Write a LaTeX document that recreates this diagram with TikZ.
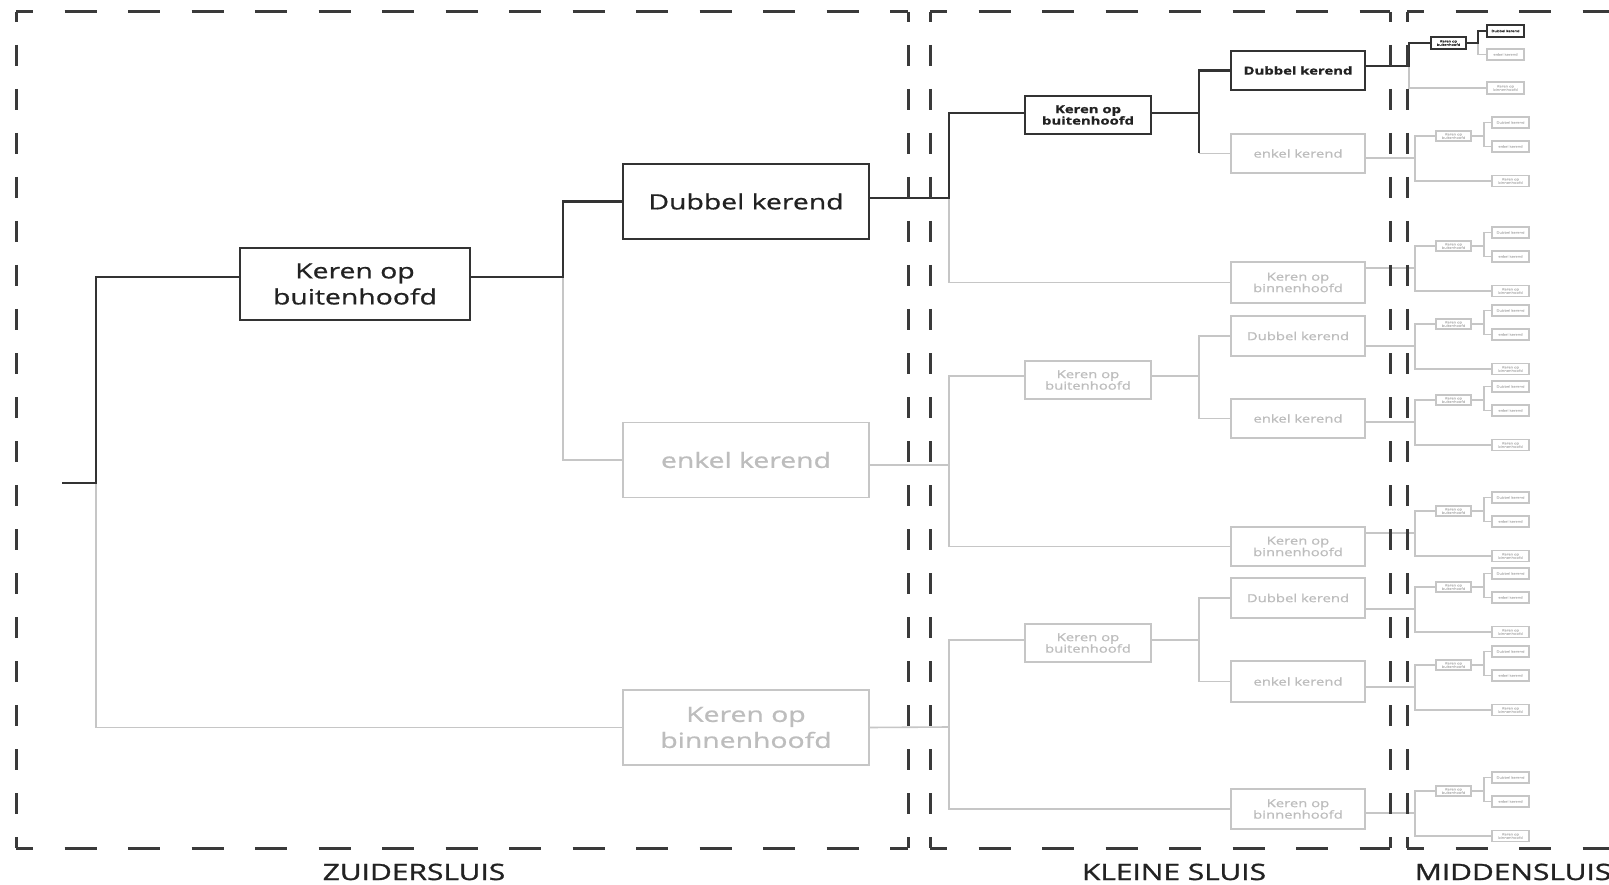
\documentclass[tikz,border=0pt]{standalone}
\usepackage{fontspec}
\setmainfont[FakeStretch=1.35,FakeBold=0.8]{Open Sans}
\newfontfamily\lblfont[FakeStretch=1.33,FakeBold=1.2]{Open Sans}
\definecolor{dkc}{HTML}{333333}
\definecolor{ltc}{HTML}{C6C6C6}
\definecolor{frc}{HTML}{3A3A3A}
\definecolor{txd}{HTML}{222222}
\definecolor{txl}{HTML}{BDBDBD}
\newcommand{\mgroup}[3]{%
  \coordinate (#1i) at (#2,#3);
  \node[ltbox,mtiny] (#1t) at ({#2+38.5},{#3-22}) {Keren op\\buitenhoofd};
  \node[ltbox,mleaf] (#1d) at ({#2+95.5},{#3-35.5}) {Dubbel kerend};
  \node[ltbox,mleaf] (#1e) at ({#2+95.5},{#3-11.5}) {enkel kerend};
  \node[ltbox,mleaf] (#1n) at ({#2+95.5},{#3+23}) {Keren op\\binnenhoofd};
  \coordinate (#1j) at ({#2+69},{#3-22});
  \draw[mlt] (#1t.west) -| (#1i) |- (#1n.west);
  \draw[mlt] (#1t.east) -- (#1j);
  \draw[mlt] (#1d.west) -| (#1j) |- (#1e.west);
}
\begin{document}
\begin{tikzpicture}[x=1pt,y=-1pt,
  box/.style={rectangle,draw,inner sep=0pt,outer sep=0pt,align=center},
  dkbox/.style={box,draw=dkc,line width=2.2pt,text=txd},
  ltbox/.style={box,draw=ltc,line width=1.6pt,text=txl},
  dkl/.style={draw=dkc,line width=2.2pt},
  ltl/.style={draw=ltc,line width=1.6pt},
  mlt/.style={draw=ltc,line width=1.2pt},
  mdk/.style={draw=dkc,line width=1.8pt},
  zsize/.style={minimum width=246pt,minimum height=75pt,font=\fontsize{21}{26}\selectfont},
  ksize/.style={minimum width=134pt,minimum height=40pt,font=\fontsize{11}{11.5}\selectfont},
  kbsize/.style={minimum width=126pt,minimum height=38pt,font=\fontsize{11}{11.5}\selectfont},
  mtiny/.style={minimum width=35pt,minimum height=10pt,line width=1.1pt,font=\fontsize{3}{3.4}\selectfont},
  mleaf/.style={minimum width=37pt,minimum height=11pt,line width=1.1pt,font=\fontsize{3}{3.4}\selectfont},
  fH/.style={draw=frc,line width=3pt,dash pattern=on 32pt off 31.5pt,dash phase=15pt},
  fV/.style={draw=frc,line width=3pt,dash pattern=on 21pt off 23pt,dash phase=11pt},
  lbl/.style={font=\lblfont\fontsize{22.5}{26}\selectfont,text=txd,anchor=base,inner sep=0pt}
]
\useasboundingbox (0,0) rectangle (1609,885);
\clip (0,0) rectangle (1609,885);
\fill[white] (0,0) rectangle (1609,885);

% ---------- ZUIDERSLUIS ----------
\coordinate (root) at (62,483);
\coordinate (rj) at (96,483);
\node[dkbox,minimum width=230pt,minimum height=72pt,font=\fontsize{21}{26}\selectfont] (zkb) at (355,284) {Keren op\\buitenhoofd};
\node[dkbox,zsize] (zdk) at (746,201.5) {Dubbel kerend};
\node[ltbox,zsize] (zek) at (746,460) {enkel kerend};
\node[ltbox,zsize] (zkn) at (746,727.5) {Keren op\\binnenhoofd};
\coordinate (zj) at (563,277);

\draw[ltl] (rj) |- (zkn.west);
\draw[dkl] (root) -- (rj) |- ([yshift=7pt]zkb.west);
\draw[ltl] (zj) |- (zek.west);
\draw[dkl] ([yshift=7pt]zkb.east) -- (zj) |- (zdk.west);

% ---------- KLEINE SLUIS ----------
\coordinate (kA) at (949,198);
\coordinate (kB) at (949,465);
\coordinate (kC) at (949,727);
\coordinate (jA) at (1199,113);
\coordinate (jB) at (1199,376);
\coordinate (jC) at (1199,640);

\node[dkbox,kbsize,font=\fontsize{11}{11.5}\selectfont\bfseries] (kAb) at (1088,115) {Keren op\\buitenhoofd};
\node[dkbox,ksize,minimum height=39pt,font=\fontsize{11}{11.5}\selectfont\bfseries] (kAd) at (1298,70.5) {Dubbel kerend};
\node[ltbox,ksize,minimum height=39pt] (kAe) at (1298,153.5) {enkel kerend};
\node[ltbox,ksize,minimum height=41pt] (kAn) at (1298,282.5) {Keren op\\binnenhoofd};

\node[ltbox,kbsize] (kBb) at (1088,380) {Keren op\\buitenhoofd};
\node[ltbox,ksize] (kBd) at (1298,336) {Dubbel kerend};
\node[ltbox,ksize,minimum height=39pt] (kBe) at (1298,418.5) {enkel kerend};
\node[ltbox,ksize,minimum height=39pt] (kBn) at (1298,546.5) {Keren op\\binnenhoofd};

\node[ltbox,kbsize] (kCb) at (1088,643) {Keren op\\buitenhoofd};
\node[ltbox,ksize] (kCd) at (1298,598) {Dubbel kerend};
\node[ltbox,ksize,minimum height=41pt] (kCe) at (1298,681.5) {enkel kerend};
\node[ltbox,ksize] (kCn) at (1298,809) {Keren op\\binnenhoofd};

% group A
\draw[ltl] (kA) |- (kAn.west);
\draw[dkl] ([yshift=3.5pt]zdk.east) -- (kA) |- ([yshift=2pt]kAb.west);
\draw[ltl] (jA |- kAe.west) -- (kAe.west);
\draw[dkl] ([yshift=2pt]kAb.east) -- (jA) |- (kAd.west);
\draw[dkl] (jA) -- (jA |- kAe.west);
% group B
\draw[ltl] ([yshift=-5pt]zek.east) -- (kB);
\draw[ltl] ([yshift=4pt]kBb.west) -| (kB) |- (kBn.west);
\draw[ltl] ([yshift=4pt]kBb.east) -- (jB);
\draw[ltl] (kBd.west) -| (jB) |- (kBe.west);
% group C
\draw[ltl] (zkn.east) -- (kC);
\draw[ltl] ([yshift=3pt]kCb.west) -| (kC) |- (kCn.west);
\draw[ltl] ([yshift=3pt]kCb.east) -- (jC);
\draw[ltl] (kCd.west) -| (jC) |- (kCe.west);

% ---------- MIDDENSLUIS ----------
% group 1 (partly highlighted)
\coordinate (m1i) at (1409,66);
\coordinate (m1j) at (1478,43);
\node[dkbox,mtiny,line width=1.8pt,minimum height=12pt] (m1t) at (1448.5,43) {Keren op\\buitenhoofd};
\node[dkbox,mleaf,line width=1.8pt,minimum height=12pt] (m1d) at (1505.5,31) {Dubbel kerend};
\node[ltbox,mleaf] (m1e) at (1505.5,54.5) {enkel kerend};
\node[ltbox,mleaf,minimum height=12pt] (m1n) at (1505.5,88) {Keren op\\binnenhoofd};
\draw[mlt] (m1i) |- (m1n.west);
\draw[mlt] (m1j) |- (m1e.west);
\draw[dkl] (kAd.east |- m1i) -- (m1i) |- (m1t.west);
\draw[mdk] (m1t.east) -- (m1j) |- (m1d.west);

\mgroup{m2}{1415}{158}
\mgroup{m3}{1415}{268}
\mgroup{m4}{1415}{346}
\mgroup{m5}{1415}{422}
\mgroup{m6}{1415}{533}
\mgroup{m7}{1415}{609}
\mgroup{m8}{1415}{687}
\mgroup{m9}{1415}{813}

\draw[ltl] (kAe.east |- m2i) -- (m2i);
\draw[ltl] (kAn.east |- m3i) -- (m3i);
\draw[ltl] (kBd.east |- m4i) -- (m4i);
\draw[ltl] (kBe.east |- m5i) -- (m5i);
\draw[ltl] (kBn.east |- m6i) -- (m6i);
\draw[ltl] (kCd.east |- m7i) -- (m7i);
\draw[ltl] (kCe.east |- m8i) -- (m8i);
\draw[ltl] (kCn.east |- m9i) -- (m9i);

% ---------- FRAMES ----------
\draw[fH] (16,12) -- (908,12);
\draw[fH] (16,848) -- (908,848);
\draw[fV] (16,12) -- (16,848);
\draw[fV] (908,12) -- (908,848);
\draw[fH] (930,12) -- (1390,12);
\draw[fH] (930,848) -- (1390,848);
\draw[fV] (930,12) -- (930,848);
\draw[fV] (1390,12) -- (1390,848);
\draw[fH] (1407,12) -- (1700,12);
\draw[fH] (1407,848) -- (1700,848);
\draw[fV] (1407,12) -- (1407,848);

% ---------- LABELS ----------
\node[lbl] (lz) at (414,880) {ZUIDERSLUIS};
\node[lbl] (lk) at (1174,880) {KLEINE SLUIS};
\node[lbl] (lm) at (1513,880) {MIDDENSLUIS};
\end{tikzpicture}
\end{document}
